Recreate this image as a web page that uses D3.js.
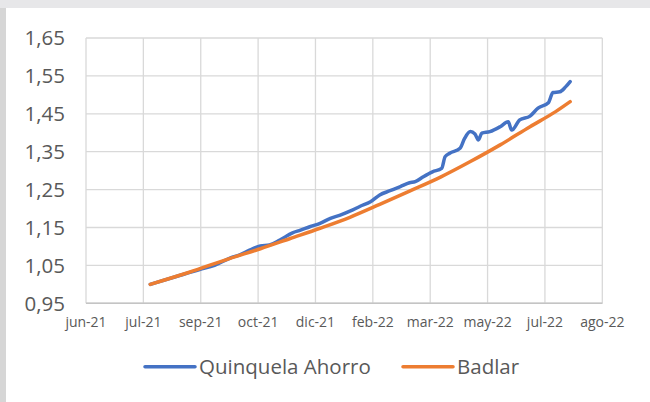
<!DOCTYPE html>
<html>
<head>
<meta charset="utf-8">
<script src="https://cdn.jsdelivr.net/npm/d3@7"></script>
<style>
  body { margin: 0; background: #fff; }
  text { font-family: "Open Sans", sans-serif; fill: #595959; }
</style>
</head>
<body>
<div id="chart"></div>
<script>

// valores
var quinquelaDates = ['2021-07-27','2021-08-18','2021-09-08','2021-09-21','2021-10-05','2021-10-13',
    '2021-10-22','2021-10-31','2021-11-08','2021-11-17','2021-11-28','2021-12-05','2021-12-13',
    '2021-12-22','2021-12-31','2022-01-08','2022-01-17','2022-01-26','2022-02-04','2022-02-12',
    '2022-02-21','2022-03-02','2022-03-10','2022-03-15','2022-03-22','2022-03-30','2022-04-07',
    '2022-04-10','2022-04-14','2022-04-23','2022-04-27','2022-05-02','2022-05-06','2022-05-09',
    '2022-05-12','2022-05-19','2022-05-28','2022-06-04','2022-06-07','2022-06-14','2022-06-23',
    '2022-06-30','2022-07-09','2022-07-13','2022-07-19','2022-07-24','2022-07-28'];
var quinquelaValues = [1.000,1.020,1.039,1.050,1.070,1.078,
    1.091,1.101,1.104,1.117,1.136,1.143,1.152,
    1.161,1.174,1.182,1.193,1.206,1.218,1.236,
    1.247,1.258,1.268,1.271,1.284,1.297,1.306,
    1.337,1.346,1.359,1.385,1.403,1.397,1.381,
    1.399,1.403,1.416,1.429,1.407,1.434,1.444,
    1.465,1.479,1.506,1.508,1.521,1.535];

var badlarDates = ['2021-07-27','2021-08-30','2021-10-04','2021-10-31','2021-11-26','2021-12-22',
    '2022-01-17','2022-02-12','2022-03-10','2022-04-06','2022-05-02','2022-05-28','2022-06-23',
    '2022-07-15','2022-07-28'];
var badlarValues = [1.000,1.032,1.068,1.094,1.121,1.148,
    1.177,1.211,1.246,1.283,1.324,1.368,1.416,
    1.455,1.482];

var tickDates  = ['2021-06-01','2021-07-21','2021-09-09','2021-10-29','2021-12-18',
    '2022-02-06','2022-03-28','2022-05-17','2022-07-06','2022-08-25'];
var tickLabels = ['jun-21','jul-21','sep-21','oct-21','dic-21','feb-22','mar-22','may-22','jul-22','ago-22'];
var yTicks = [0.95, 1.05, 1.15, 1.25, 1.35, 1.45, 1.55, 1.65];

var seriesNames = ['Quinquela Ahorro', 'Badlar'];
var colors = ['#4472C4', '#ED7D31'];


draw();

function draw() {
    var parse = d3.timeParse('%Y-%m-%d');
    var width = 650, height = 402;

    let svg = d3.select('#chart').append('svg')
        .attr('width', width)
        .attr('height', height)

    // marco gris de la captura
    svg.append('rect').attr('x', 0).attr('y', 0).attr('width', width).attr('height', 8).attr('fill', '#e7e7e9')
    svg.append('rect').attr('x', 0).attr('y', 8).attr('width', 6).attr('height', height - 8).attr('fill', '#d6d6d6')

    let xScale = d3.scaleTime()
        .domain([parse(tickDates[0]), parse(tickDates[tickDates.length - 1])])
        .range([86, 602.3])
    let yScale = d3.scaleLinear().domain([0.95, 1.65]).range([303.3, 38])

    let fmtY = d => d3.format('.2f')(d).replace('.', ',');

    // grilla horizontal
    svg.append('g')
        .selectAll('line').data(yTicks).enter().append('line')
        .attr('x1', 86).attr('x2', 602.3)
        .attr('y1', d => yScale(d)).attr('y2', d => yScale(d))
        .attr('stroke', (d, i) => i === 0 ? '#bfbfbf' : '#d9d9d9')
        .attr('stroke-width', 1.3)

    // grilla vertical
    svg.append('g')
        .selectAll('line').data(tickDates).enter().append('line')
        .attr('x1', d => xScale(parse(d))).attr('x2', d => xScale(parse(d)))
        .attr('y1', yScale(0.95)).attr('y2', yScale(1.65))
        .attr('stroke', '#d9d9d9')
        .attr('stroke-width', 1.3)

    svg.append('line')
        .attr('x1', 86).attr('x2', 602.3)
        .attr('y1', yScale(0.95)).attr('y2', yScale(0.95))
        .attr('stroke', '#c4c4c4').attr('stroke-width', 1.5)

    // etiquetas eje y
    svg.append('g')
        .selectAll('text').data(yTicks).enter().append('text')
        .attr('x', 65)
        .attr('y', d => yScale(d))
        .attr('dy', '0.36em')
        .attr('text-anchor', 'end')
        .attr('font-size', 20.5)
        .text(fmtY)

    // etiquetas eje x
    svg.append('g')
        .selectAll('text').data(tickDates).enter().append('text')
        .attr('x', d => xScale(parse(d)))
        .attr('y', 327)
        .attr('text-anchor', 'middle')
        .attr('font-size', 14)
        .text((d, i) => tickLabels[i])

    let line = d3.line()
        .x(d => xScale(d[0]))
        .y(d => yScale(d[1]))
        .curve(d3.curveMonotoneX)

    let series = [
        quinquelaDates.map((d, i) => [parse(d), quinquelaValues[i]]),
        badlarDates.map((d, i) => [parse(d), badlarValues[i]])
    ];

    series.forEach((s, i) => {
        svg.append('path')
            .datum(s)
            .attr('fill', 'none')
            .attr('stroke', colors[i])
            .attr('stroke-width', 3.5)
            .attr('stroke-linejoin', 'round')
            .attr('stroke-linecap', 'round')
            .attr('d', line)
    })

    // leyenda
    var legendX = [145, 403];
    seriesNames.forEach((name, i) => {
        svg.append('line')
            .attr('x1', legendX[i]).attr('x2', legendX[i] + 50)
            .attr('y1', 366.7).attr('y2', 366.7)
            .attr('stroke', colors[i])
            .attr('stroke-width', 3.5)
            .attr('stroke-linecap', 'round')
        svg.append('text')
            .attr('x', legendX[i] + 54)
            .attr('y', 373.5)
            .attr('font-size', 20.5)
            .text(name)
    })
}
</script>
</body>
</html>
